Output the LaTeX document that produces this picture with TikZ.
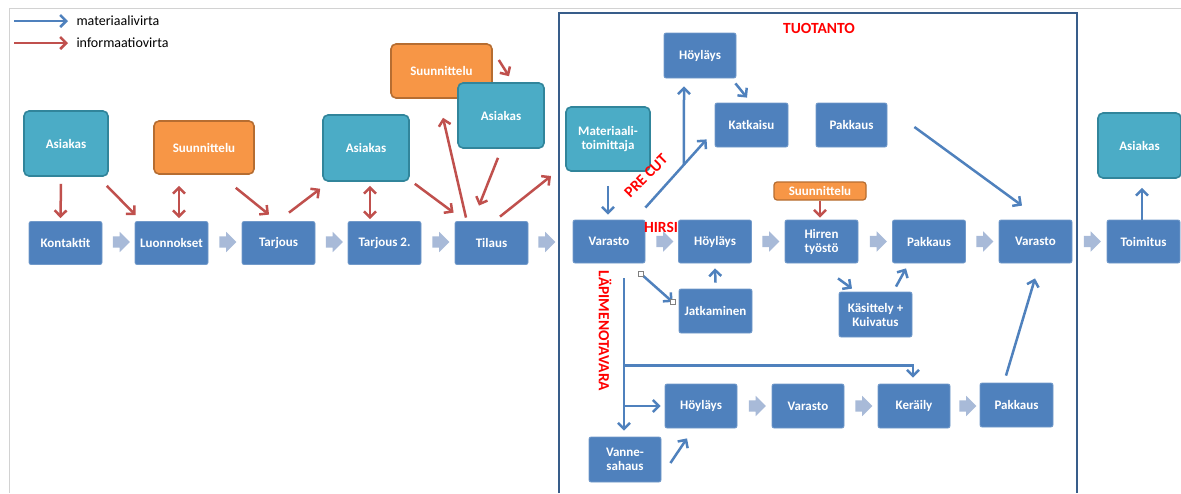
\documentclass[tikz,border=0pt]{standalone}
\usepackage{fontspec}
\setmainfont{Carlito}
\usetikzlibrary{arrows.meta,shapes.arrows}
\definecolor{boxblue}{RGB}{79,129,189}
\definecolor{boxteal}{RGB}{75,172,198}
\definecolor{tealline}{RGB}{49,133,155}
\definecolor{boxorange}{RGB}{247,150,70}
\definecolor{orangeline}{RGB}{182,109,49}
\definecolor{infored}{RGB}{192,80,77}
\definecolor{chevblue}{RGB}{168,186,216}
\definecolor{framecol}{RGB}{56,93,138}
\definecolor{labelred}{RGB}{255,0,0}
\begin{document}
\begin{tikzpicture}[x=1pt,y=-1pt,
 box/.style={fill=boxblue,draw=boxblue!80!white,line width=0.8pt,rounded corners=2pt,text=white,font=\fontsize{13}{14}\selectfont\bfseries,align=center,minimum width=73pt,minimum height=43pt,inner sep=1pt},
 cust/.style={box,fill=boxteal,draw=tealline,line width=1.6pt,rounded corners=5pt,minimum width=84pt,minimum height=65pt},
 plan/.style={box,fill=boxorange,draw=orangeline,line width=1.6pt,rounded corners=5pt,minimum width=100pt,minimum height=53pt},
 chev/.style={single arrow,fill=chevblue,draw=none,minimum height=17pt,minimum width=20pt,single arrow head extend=4.5pt,inner sep=5.5pt},
 mat/.style={boxblue,line width=2.5pt,arrows={-Straight Barb[length=6pt,width=12pt]}},
 info/.style={mat,infored},
 both/.style={info,arrows={Straight Barb[length=6pt,width=12pt]-Straight Barb[length=6pt,width=12pt]}},
 tag/.style={text=labelred,font=\fontsize{15.5}{16}\selectfont\bfseries,inner sep=1pt},
 handle/.style={draw=gray,fill=white,line width=0.6pt,minimum size=5pt,inner sep=0pt}]
\useasboundingbox (0,0) rectangle (1181,493);
\fill[white] (0,0) rectangle (1181,493);
\draw[gray!35,line width=1pt] (9,493) |- (1181,8);
\draw[framecol,line width=2pt] (559,493) |- (1077,13) -- (1077,493);

\node[anchor=west,font=\fontsize{14}{15}\selectfont] (lm) at (73,21) {materiaalivirta};
\node[anchor=west,font=\fontsize{14}{15}\selectfont] (li) at (73,43) {informaatiovirta};
\draw[mat] ([xshift=-59]lm.west) -- ([xshift=-5]lm.west);
\draw[info] ([xshift=-59]li.west) -- ([xshift=-5]li.west);

\node[cust] (a1) at (66,143.5) {Asiakas};
\node[plan] (s1) at (204,147.5) {Suunnittelu};
\node[cust,minimum width=86pt,minimum height=66pt] (a2) at (366,148) {Asiakas};
\node[plan,minimum width=101pt,minimum height=54pt] (s2) at (441.5,71) {Suunnittelu};
\node[cust,minimum width=86pt] (a3) at (501,115.5) {Asiakas};

\node[box] (kon) at (65.5,243) {Kontaktit};
\node[box] (luo) at (171.5,243) {Luonnokset};
\node[box] (tar) at (278.5,243) {Tarjous};
\node[box] (tar2) at (384.5,243) {Tarjous 2.};
\node[box] (til) at (491.5,243) {Tilaus};
\foreach \cx [count=\i] in {118.5,225,331.5,438,544}
  \node[chev] (ca\i) at (\cx,242) {};
\coordinate (tuotin) at (551,176);

\draw[info] ([shift={(-5,7)}]a1.south) -- ([shift={(-5,-3)}]kon.north);
\draw[info] ([shift={(-2,9)}]a1.south east) -- ([shift={(1,-6)}]luo.north west);
\draw[both] ([shift={(-25,11)}]s1.south) -- ([shift={(7.5,-3)}]luo.north);
\draw[info] ([shift={(-19,13)}]s1.south east) -- ([shift={(-9.5,-6.5)}]tar.north);
\draw[info] ([shift={(10.5,-8.5)}]tar.north) -- ([shift={(-2,7)}]a2.south west);
\draw[both] ([shift={(4,4)}]a2.south) -- ([shift={(-14.5,-2)}]tar2.north);
\draw[info] ([shift={(5,2)}]a2.south east) -- ([shift={(-1,-8.5)}]til.north west);
\draw[info] ([shift={(-25.5,-3.5)}]til.north) -- ([shift={(1.5,19)}]s2.south);
\draw[info] ([shift={(-3,9)}]a3.south) -- ([shift={(-12.5,-15.5)}]til.north);
\draw[info] ([shift={(6,-11)}]s2.east) -- ([shift={(8,-6)}]a3.north);
\draw[info] ([shift={(8.5,-4.5)}]til.north) -- (tuotin);

\node[tag] (tuo) at (819,28) {TUOTANTO};
\node[cust,minimum height=64pt] (mt) at (608,139) {Materiaali-\\toimittaja};
\node[box,minimum width=72pt,minimum height=45pt] (hoy1) at (700,55.5) {Höyläys};
\node[box,minimum height=44pt] (kat) at (751.5,125) {Katkaisu};
\node[box,minimum width=71pt,minimum height=44pt] (pak1) at (851.5,125) {Pakkaus};
\node[plan,minimum width=92pt,minimum height=18pt,line width=1.2pt,rounded corners=3pt] (s3) at (820,191) {Suunnittelu};
\node[cust,minimum width=83pt] (a4) at (1139.5,145.5) {Asiakas};

\node[box,minimum width=72pt] (var1) at (609,241.5) {Varasto};
\node[box] (hoy2) at (715,241.5) {Höyläys};
\node[box] (hir) at (821.5,241.5) {Hirren\\työstö};
\node[box] (pak2) at (929,241.5) {Pakkaus};
\node[box] (var2) at (1035.5,241.5) {Varasto};
\node[box] (toi) at (1143.5,241.5) {Toimitus};
\foreach \cx [count=\i] in {662,768,875.5,982,1089.5}
  \node[chev] (cb\i) at (\cx,241.5) {};

\node[box,minimum height=44pt] (jat) at (715.5,311) {Jatkaminen};
\node[box,minimum height=45pt] (kas) at (875.5,314.5) {Käsittely +\\Kuivatus};

\node[box,minimum width=72pt,minimum height=44pt] (hoy3) at (701,406) {Höyläys};
\node[box,minimum width=72pt,minimum height=44pt] (var3) at (808,406) {Varasto};
\node[box,minimum width=72pt,minimum height=44pt] (ker) at (914,406) {Keräily};
\node[box,minimum height=44pt] (pak3) at (1016.5,405) {Pakkaus};
\node[box,minimum width=72pt,minimum height=45pt] (vs) at (625,459.5) {Vanne-\\sahaus};
\foreach \cx [count=\i] in {754.5,861,965}
  \node[chev] (cc\i) at (\cx,406) {};

\node[tag,rotate=45] (pre) at (646,176) {PRE CUT};
\node[tag] (hirsi) at (661,227) {HIRSI};
\node[tag,rotate=-90] (lap) at (605,331) {LÄPIMENOTAVARA};

\draw[mat] ([shift={(0,14)}]mt.south) -- ([shift={(-1,-5)}]var1.north);
\draw[mat] ([shift={(0,-12)}]var1.north east) -- coordinate[pos=0.63] (pc) ([shift={(-8,-8)}]kat.south west);
\draw[mat] (pc) -- ([shift={(-16,8)}]hoy1.south);
\draw[mat] ([shift={(-1,5)}]hoy1.south east) -- ([shift={(-4.5,-5)}]kat.north);
\draw[mat] ([shift={(27,2)}]pak1.east) -- ([shift={(-13.5,-14)}]var2.north);
\draw[info] (s3.south) -- ([shift={(-1.5,-2)}]hir.north);
\draw[mat] ([xshift=-1.5]toi.north) -- ([shift={(2.5,9)}]a4.south);

\draw[mat] ([shift={(-5,10)}]var1.south east) coordinate (h1) -- ([shift={(-6,-9)}]jat.west) coordinate (h2);
\node[handle] (hs1) at (h1) {};
\node[handle] (hs2) at (h2) {};
\draw[mat] ([shift={(0,-6)}]jat.north) -- ([shift={(0,5)}]hoy2.south);
\draw[mat] ([shift={(16.5,15)}]hir.south) -- ([shift={(-23.5,-3)}]kas.north);
\draw[mat] ([shift={(20.5,-5)}]kas.north) -- ([shift={(-23,5)}]pak2.south);

\coordinate (lp) at ([shift={(15,15)}]var1.south);
\draw[mat] (lp) -- ([shift={(-1,-6)}]vs.north);
\draw[mat] ([shift={(0,87)}]lp) -| ([shift={(-1,-6)}]ker.north);
\draw[mat] (lp |- hoy3.west) -- ([xshift=-4]hoy3.west);
\draw[mat] ([shift={(9,3.5)}]vs.east) -- ([shift={(-14,10)}]hoy3.south);
\draw[mat] ([shift={(-10.5,-7)}]pak3.north) -- ([shift={(-0.5,15)}]var2.south);
\end{tikzpicture}
\end{document}
